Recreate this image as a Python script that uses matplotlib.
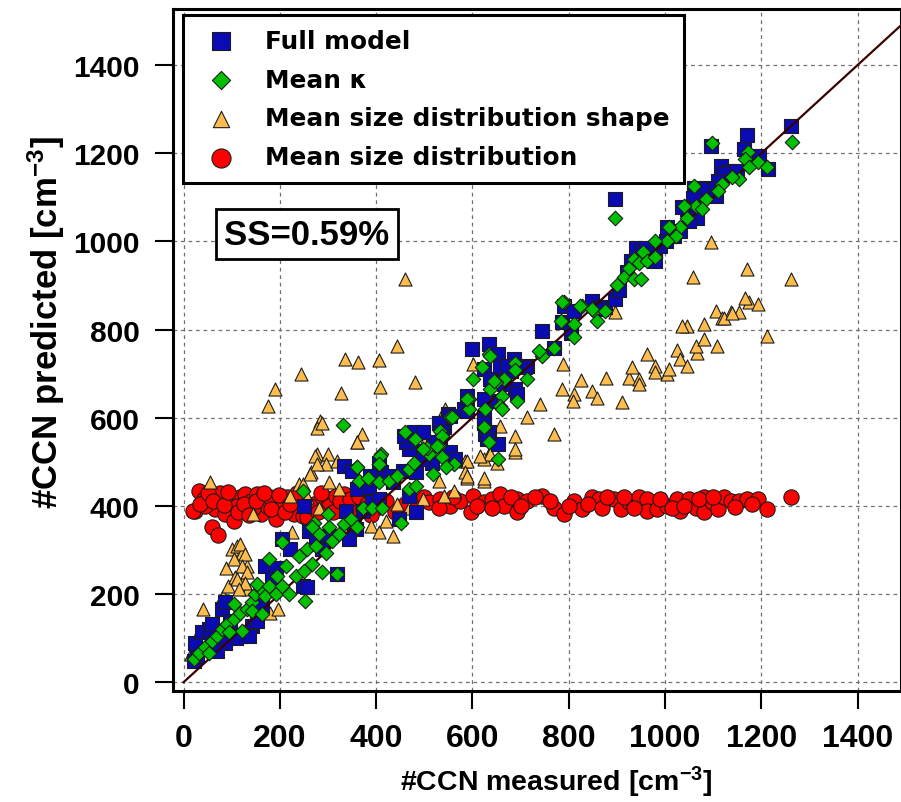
import numpy as np
import matplotlib.pyplot as plt

plt.rcParams['font.family'] = 'DejaVu Sans'
plt.rcParams['font.weight'] = 'bold'
plt.rcParams['mathtext.fontset'] = 'custom'
plt.rcParams['mathtext.bf'] = 'Liberation Sans:bold'
plt.rcParams['mathtext.default'] = 'bf'

# measured vs predicted CCN (cm-3), SS = 0.59 %
full_model = np.array([
    [21, 48], [28, 60], [24, 90], [38, 113], [52, 120], [59, 131], [80, 166], [87, 181],
    [97, 139], [118, 105], [142, 128], [170, 264], [191, 260], [184, 234], [205, 324],
    [222, 302], [250, 400], [247, 218], [257, 215], [260, 343], [274, 317], [288, 302],
    [302, 332], [319, 245], [333, 491], [337, 389], [361, 438], [358, 347], [372, 389],
    [385, 442], [392, 408], [406, 498], [410, 476], [427, 468], [434, 453], [455, 479],
    [483, 476], [469, 529], [462, 544], [500, 525], [344, 324], [354, 362], [406, 415],
    [448, 370], [469, 423], [483, 385], [153, 139], [163, 173], [135, 105], [108, 101],
    [87, 90], [69, 71], [599, 756], [634, 767], [654, 744], [686, 733], [623, 710],
    [665, 706], [689, 665], [637, 638], [589, 650], [582, 619], [623, 601], [627, 563],
    [654, 540], [550, 608], [540, 578], [533, 544], [554, 521], [564, 506], [457, 559],
    [478, 567], [388, 468], [349, 479], [658, 714], [713, 718], [637, 688], [665, 676],
    [693, 653], [679, 706], [589, 616], [623, 642], [623, 589], [634, 567], [630, 551],
    [554, 604], [530, 589], [537, 567], [519, 544], [516, 498], [498, 567], [745, 797],
    [769, 759], [790, 854], [786, 816], [810, 843], [849, 865], [876, 850], [862, 850],
    [804, 793], [498, 506], [804, 797], [866, 846], [672, 718], [710, 714], [897, 870],
    [905, 890], [920, 930], [930, 955], [940, 985], [950, 975], [960, 986], [970, 960],
    [980, 975], [990, 990], [1001, 1001], [897, 1096], [1261, 1262], [1171, 1241],
    [1096, 1217], [1164, 1209], [1195, 1194], [1213, 1165], [1116, 1171], [1133, 1160],
    [1122, 1153], [1150, 1160], [1109, 1137], [1088, 1122], [1105, 1103], [1060, 1122],
    [1077, 1118], [1057, 1099], [1046, 1073], [1036, 1077], [1067, 1054], [1050, 1047],
    [1005, 1032], [1032, 1024], [1018, 1013], [980, 956],
])

mean_kappa = np.array([
    [21, 52], [31, 67], [45, 79], [59, 94], [69, 105], [80, 120], [90, 131], [104, 143],
    [118, 158], [104, 177], [122, 116], [132, 166], [142, 181], [149, 200], [160, 211],
    [170, 196], [153, 222], [177, 218], [191, 200], [205, 218], [219, 200], [194, 241],
    [212, 264], [233, 241], [250, 253], [267, 268], [288, 249], [240, 287], [257, 302],
    [274, 309], [295, 294], [309, 321], [281, 336], [302, 351], [323, 336], [333, 358],
    [347, 370], [361, 351], [299, 381], [271, 362], [267, 351], [372, 396], [392, 396],
    [413, 396], [365, 457], [385, 461], [406, 453], [410, 517], [406, 495], [427, 457],
    [444, 468], [469, 483], [479, 498], [469, 438], [483, 445], [361, 487], [451, 362],
    [253, 184], [319, 245], [205, 317], [177, 279], [247, 434], [94, 113], [52, 67],
    [142, 162], [163, 154], [332, 584], [790, 862], [828, 854], [852, 843], [876, 843],
    [859, 820], [783, 820], [810, 812], [810, 782], [769, 759], [745, 740], [738, 752],
    [634, 744], [620, 714], [602, 688], [689, 725], [689, 708], [665, 688], [648, 680],
    [713, 688], [637, 665], [661, 650], [658, 627], [693, 638], [592, 642], [592, 620],
    [627, 620], [627, 578], [634, 544], [654, 506], [554, 601], [533, 570], [537, 559],
    [530, 536], [509, 517], [537, 510], [561, 495], [519, 472], [544, 487], [505, 532],
    [637, 740], [644, 684], [589, 642], [661, 619], [623, 578], [557, 601], [526, 536],
    [481, 551], [460, 567], [498, 529], [408, 514], [360, 487], [405, 495], [384, 464],
    [786, 862], [824, 854], [849, 846], [897, 1052], [900, 900], [915, 920], [925, 940],
    [935, 960], [945, 950], [955, 975], [935, 915], [1263, 1225], [1097, 1222],
    [1172, 1203], [1167, 1187], [1192, 1179], [1211, 1168], [1174, 1168], [1154, 1141],
    [1140, 1145], [1119, 1130], [1109, 1115], [1060, 1125], [1084, 1096], [1064, 1081],
    [1077, 1073], [1039, 1081], [1046, 1054], [1032, 1032], [1022, 1013], [1005, 1001],
    [1008, 1032], [980, 1001], [963, 956], [980, 964], [949, 914],
])

mean_shape = np.array([
    [27, 75], [15, 64], [41, 166], [52, 131], [31, 113], [55, 453], [82, 196], [93, 219],
    [89, 260], [100, 302], [110, 309], [121, 294], [131, 264], [107, 238], [124, 227],
    [134, 211], [118, 313], [128, 290], [104, 279], [122, 264], [132, 249], [111, 234],
    [128, 226], [115, 211], [145, 381], [180, 158], [197, 166], [226, 340], [222, 423],
    [240, 449], [249, 449], [256, 419], [264, 476], [278, 517], [299, 517], [295, 495],
    [281, 396], [302, 453], [323, 438], [361, 544], [389, 355], [406, 340], [434, 332],
    [420, 366], [444, 404], [469, 396], [497, 415], [540, 423], [561, 434], [589, 464],
    [623, 457], [585, 502], [634, 517], [689, 521], [460, 914], [443, 763], [336, 733],
    [363, 727], [405, 731], [244, 699], [190, 666], [175, 627], [327, 655], [408, 669],
    [480, 680], [284, 593], [277, 576], [370, 563], [287, 589], [360, 544], [273, 514],
    [277, 495], [318, 502], [263, 472], [589, 502], [623, 506], [658, 582], [689, 559],
    [689, 529], [585, 476], [623, 464], [543, 619], [602, 721], [713, 601], [504, 551],
    [741, 631], [769, 563], [788, 721], [786, 665], [810, 653], [809, 638], [826, 685],
    [849, 661], [859, 644], [878, 691], [910, 635], [925, 689], [932, 714], [946, 687],
    [946, 676], [962, 744], [980, 718], [979, 703], [1005, 699], [897, 839], [589, 468],
    [637, 517], [651, 498], [530, 457], [616, 513], [1008, 710], [1024, 754], [1032, 734],
    [1045, 718], [1066, 746], [1064, 763], [1081, 778], [1081, 812], [1107, 762],
    [1046, 808], [1105, 843], [1119, 827], [1136, 839], [1154, 839], [1174, 862],
    [1192, 858], [1211, 786], [1096, 998], [1171, 937], [1261, 914], [1059, 918],
    [1167, 871], [1122, 825], [1140, 838], [1036, 808],
])

mean_dist = np.array([
    [31, 434], [42, 415], [24, 389], [56, 419], [66, 392], [76, 430], [87, 381], [97, 419],
    [104, 366], [118, 419], [128, 426], [139, 411], [153, 426], [160, 381], [174, 400],
    [188, 411], [191, 370], [205, 400], [215, 419], [229, 381], [247, 377], [257, 374],
    [292, 419], [302, 400], [316, 423], [333, 426], [337, 400], [358, 389], [372, 392],
    [58, 351], [71, 334], [20, 388], [45, 400], [110, 400], [145, 395], [180, 420],
    [240, 420], [270, 405], [400, 395], [420, 410], [440, 385], [460, 405], [480, 395],
    [500, 420], [509, 408], [533, 415], [554, 400], [575, 411], [596, 385], [602, 423],
    [623, 408], [641, 415], [658, 427], [665, 400], [693, 415], [693, 385], [713, 411],
    [745, 423], [769, 396], [790, 381], [810, 411], [828, 392], [849, 419], [862, 415],
    [894, 415], [908, 392], [925, 408], [946, 419], [963, 415], [963, 389], [984, 392],
    [1005, 400], [1024, 415], [1032, 389], [1050, 415], [1064, 396], [1081, 419],
    [1081, 385], [1098, 408], [1109, 392], [1122, 419], [1136, 411], [1154, 411],
    [1171, 415], [1192, 415], [1211, 392], [1261, 419],
    [35, 405], [50, 430], [62, 410], [83, 402], [92, 432], [112, 386], [125, 405],
    [135, 380], [150, 410], [168, 428], [182, 392], [198, 425], [210, 385], [222, 405],
    [235, 430], [262, 400], [280, 385], [285, 430], [310, 385], [325, 410], [345, 415],
    [365, 420], [380, 405], [390, 380], [530, 395], [560, 420], [610, 400], [640, 395],
    [680, 420], [700, 400], [730, 420], [760, 410], [800, 400], [840, 405], [870, 395],
    [880, 420], [915, 420], [935, 395], [990, 415], [1015, 395], [1040, 400], [1070, 415],
    [1100, 420], [1145, 398], [1180, 405],
])

x_ticks = [0, 200, 400, 600, 800, 1000, 1200, 1400]
y_ticks = [0, 200, 400, 600, 800, 1000, 1200, 1400]

fig = plt.figure(figsize=(9.01, 8.03), dpi=100)
ax = fig.add_axes([173 / 901, 111 / 803, 728 / 901, 682 / 803])

edge = '#1c1c1c'
h_dist = ax.scatter(mean_dist[:, 0], mean_dist[:, 1], s=11 ** 2, marker='o', c='#ff0000',
                    edgecolors=edge, linewidths=0.8, zorder=3)
h_shape = ax.scatter(mean_shape[:, 0], mean_shape[:, 1], s=9.4 ** 2, marker='^', c='#fcbd4e',
                     edgecolors=edge, linewidths=0.8, zorder=4)
h_full = ax.scatter(full_model[:, 0], full_model[:, 1], s=10.5 ** 2, marker='s', c='#0b0bb4',
                    edgecolors=edge, linewidths=0.8, zorder=5)
ax.plot([0, 1500], [0, 1500], color='#3a0000', lw=1.6, zorder=6)
h_kappa = ax.scatter(mean_kappa[:, 0], mean_kappa[:, 1], s=7.4 ** 2, marker='D', c='#00c000',
                     edgecolors=edge, linewidths=0.8, zorder=7)

ax.set_xlim(-22, 1490)
ax.set_ylim(-20, 1527)

ax.set_xticks(x_ticks, labels=[str(t) for t in x_ticks], fontsize=23,
              fontfamily='Liberation Sans', fontweight='bold')
ax.set_yticks(y_ticks, labels=[str(t) for t in y_ticks], fontsize=21.5,
              fontfamily='Liberation Sans', fontweight='bold')
ax.tick_params(direction='out', length=13, width=1.5, color='black')
ax.tick_params(axis='x', pad=10)
ax.tick_params(axis='y', pad=11)

ax.grid(True, linestyle=(0, (3, 3)), color='#707070', linewidth=0.9)
ax.set_axisbelow(True)
for sp in ax.spines.values():
    sp.set_linewidth(2.2)

ax.set_xlabel('#CCN measured [cm$^{-3}$]', fontsize=20.5, fontfamily='Liberation Sans',
              fontweight='bold')
ax.xaxis.set_label_coords(0.527, -0.107)
ax.set_ylabel('#CCN predicted [cm$^{-3}$]', fontsize=25, fontfamily='Liberation Sans',
              fontweight='bold')
ax.yaxis.set_label_coords(-0.146, 0.542)

ax.text(256, 1016, 'SS=0.59%', ha='center', va='center', fontsize=25,
        fontfamily='Liberation Sans', fontweight='bold', zorder=8,
        bbox=dict(boxstyle='square,pad=0.24', fc='white', ec='black', lw=2))

leg = ax.legend([h_full, h_kappa, h_shape, h_dist],
                ['Full model', 'Mean κ', 'Mean size distribution shape', 'Mean size distribution'],
                loc='upper left', bbox_to_anchor=(0.0138, 0.991), borderaxespad=0,
                prop={'family': 'DejaVu Sans', 'weight': 'bold', 'size': 17.8},
                frameon=True, fancybox=False, edgecolor='black', framealpha=1,
                handlelength=1.96, handletextpad=0.82, labelspacing=0.6, borderpad=0.55,
                markerscale=1.25)
leg.get_frame().set_linewidth(2.2)
leg.set_zorder(9)

fig.savefig('out.png', dpi=100)
